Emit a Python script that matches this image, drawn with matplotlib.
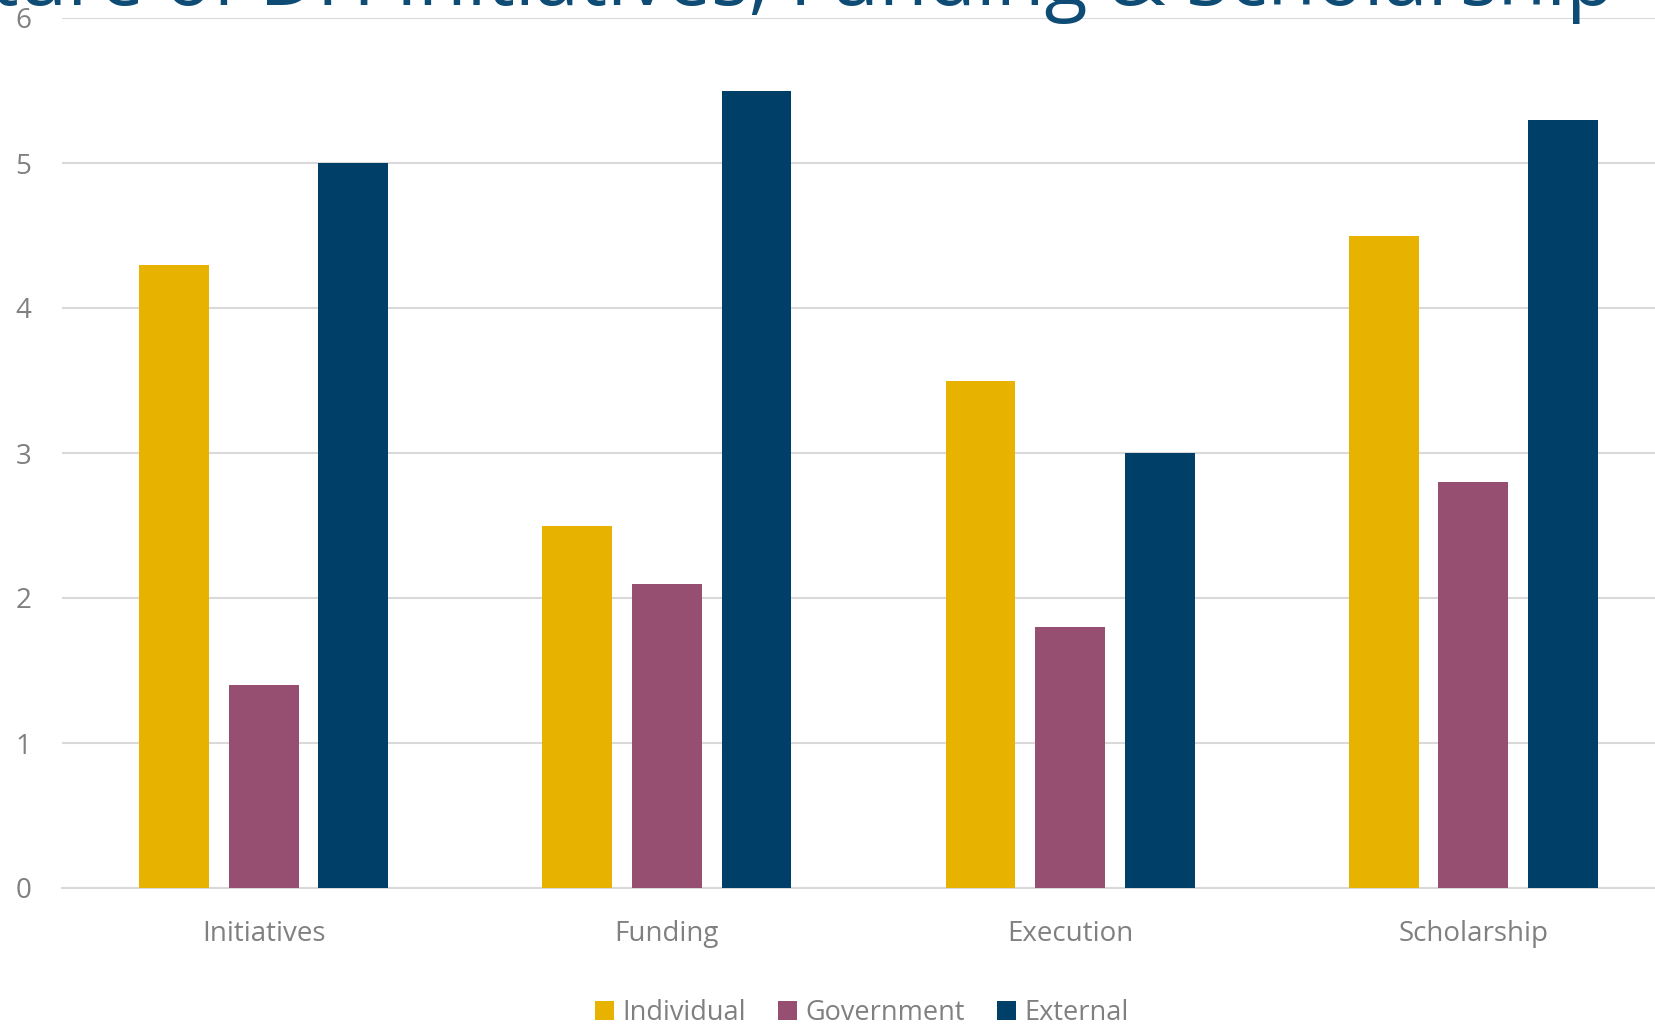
import numpy as np
import matplotlib.pyplot as plt

categories = ["Initiatives", "Funding", "Execution", "Scholarship"]
individual = [4.3, 2.5, 3.5, 4.5]
government = [1.4, 2.1, 1.8, 2.8]
external = [5.0, 5.5, 3.0, 5.3]

series = [("Individual", individual, "#E8B300"),
          ("Government", government, "#964F71"),
          ("External", external, "#003F67")]

plt.rcParams['font.family'] = ['Open Sans', 'DejaVu Sans']
grey = "#808080"

fig = plt.figure(figsize=(16.55, 10.28), dpi=100)
# the original is cropped: plot runs past the right edge
ax = fig.add_axes([62 / 1655, 140 / 1028, 1613 / 1655, 870 / 1028])

x = np.arange(len(categories))
step = 0.2225
width = 0.173
for i, (name, vals, col) in enumerate(series):
    ax.bar(x + (i - 1) * step, vals, width, color=col, label=name, zorder=3)

ax.set_xlim(-0.5, 3.5)
ax.set_ylim(0, 6)
ax.set_yticks(range(7))
ax.set_xticks(x)
ax.set_xticklabels(categories)
ax.grid(axis='y', color="#D9D9D9", linewidth=1.5, zorder=0)
for s in ['top', 'right', 'left']:
    ax.spines[s].set_visible(False)
ax.spines['bottom'].set_color("#D9D9D9")
ax.spines['bottom'].set_linewidth(1.5)
ax.tick_params(axis='both', length=0, colors=grey, labelsize=20)
ax.tick_params(axis='y', pad=22)
ax.tick_params(axis='x', pad=23)

# title is cut off at the top in the original
fig.text(1615 / 1655, 1 - 5 / 1028, "The Future of DH Initiatives, Funding & Scholarship",
         ha='right', va='baseline', fontsize=57, color="#0E4C75")

fig.legend(loc='center', bbox_to_anchor=(862 / 1655, 1 - 1013 / 1028), ncol=3,
           frameon=False, fontsize=19.5, labelcolor=grey, handlelength=0.7,
           handleheight=0.7, handletextpad=0.3, columnspacing=1.2,
           borderpad=0)

fig.savefig("out.png", dpi=100)
